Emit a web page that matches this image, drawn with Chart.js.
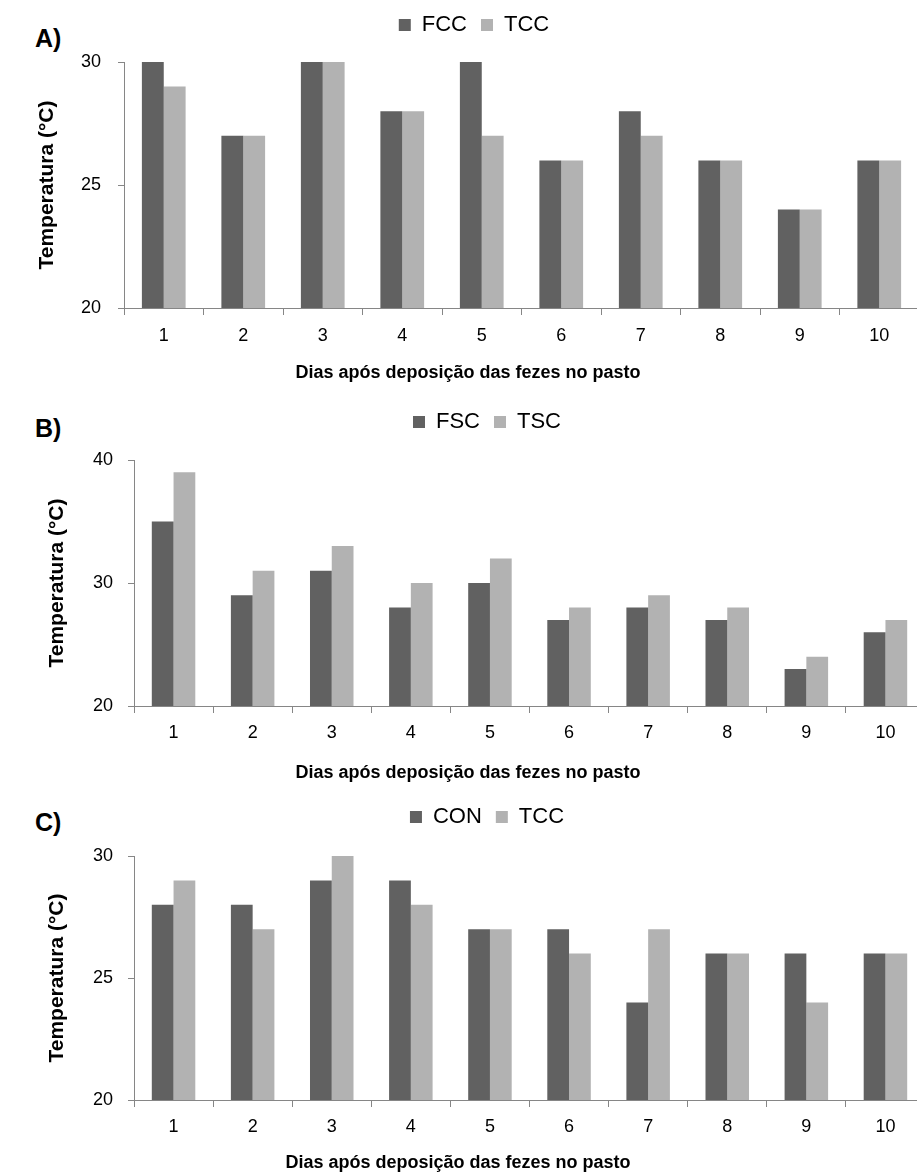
<!DOCTYPE html>
<html>
<head>
<meta charset="utf-8">
<script src="https://cdn.jsdelivr.net/npm/chart.js@4.4.1/dist/chart.umd.min.js"></script>
<style>
  html, body { margin: 0; padding: 0; background: #fff; width: 917px; height: 1175px; overflow: hidden; }
  .panel { position: absolute; left: 0; }
  .tag { position: absolute; left: 35px; font-family: "Liberation Sans", Arial, sans-serif; font-weight: bold; font-size: 25px; line-height: 1; color: #000; }
</style>
</head>
<body>
<div class="tag" style="top:26px">A)</div>
<div class="tag" style="top:416px">B)</div>
<div class="tag" style="top:810px">C)</div>
<div class="panel" style="top:0"><canvas id="chartA" width="919" height="395"></canvas></div>
<div class="panel" style="top:395px"><canvas id="chartB" width="925" height="400"></canvas></div>
<div class="panel" style="top:795px"><canvas id="chartC" width="925" height="380"></canvas></div>
<script>
const days = ["1", "2", "3", "4", "5", "6", "7", "8", "9", "10"];

// A) FCC x TCC
const fccA = [30, 27, 30, 28, 30, 26, 28, 26, 24, 26];
const tccA = [29, 27, 30, 28, 27, 26, 27, 26, 24, 26];
const yTicksA = [20, 25, 30];

// B) FSC x TSC
const fscB = [35, 29, 31, 28, 30, 27, 28, 27, 23, 26];
const tscB = [39, 31, 33, 30, 32, 28, 29, 28, 24, 27];
const yTicksB = [20, 30, 40];

// C) CON x TCC
const conC = [28, 28, 29, 29, 27, 27, 24, 26, 26, 26];
const tccC = [29, 27, 30, 28, 27, 26, 27, 26, 24, 26];
const yTicksC = [20, 25, 30];

const xTitle = "Dias após deposição das fezes no pasto";
const yTitle = "Temperatura (°C)";

const DARK = "#616161";
const LIGHT = "#b2b2b2";
const AXIS = "#868686";
const FONT = "'Liberation Sans', Arial, sans-serif";

// fixes legend height and moves the legend row to a given centre
const legendPlace = {
  id: "legendPlace",
  beforeInit(chart, args, opts) {
    const lg = chart.legend;
    const fit = lg.fit;
    lg.fit = function () { fit.call(this); this.height = opts.height; };
  },
  afterLayout(chart, args, opts) {
    const lg = chart.legend;
    const lab = lg.options.labels;
    const size = lab.font.size;
    const ih = Math.max(size, lab.boxHeight || size);
    const dy = opts.cy - (lg.top + lab.padding + ih / 2);
    const dx = opts.cx - (lg.left + lg.right) / 2;
    lg.top += dy; lg.bottom += dy;
    lg.left += dx; lg.right += dx;
  },
};

// x axis title sits left of the plot centre in the original, so it is placed by hand
const xTitlePlace = {
  id: "xTitlePlace",
  afterDraw(chart, args, opts) {
    const ctx = chart.ctx;
    ctx.save();
    ctx.font = `bold ${opts.size}px ${FONT}`;
    ctx.fillStyle = "#000";
    ctx.textAlign = "center";
    ctx.textBaseline = "middle";
    ctx.fillText(opts.text, opts.x, opts.y);
    ctx.restore();
  },
};

function makePanel(id, names, series, yTicks, lay) {
  const canvas = document.getElementById(id);
  return new Chart(canvas, {
    type: "bar",
    data: {
      labels: days,
      datasets: [
        { label: names[0], data: series[0], backgroundColor: DARK, borderWidth: 0 },
        { label: names[1], data: series[1], backgroundColor: LIGHT, borderWidth: 0 },
      ],
    },
    options: {
      responsive: false,
      animation: false,
      layout: { padding: 0 },
      datasets: { bar: { categoryPercentage: 0.55, barPercentage: 1.0 } },
      plugins: {
        tooltip: { enabled: false },
        legend: {
          position: "top",
          labels: {
            color: "#000",
            font: { family: FONT, size: 22 },
            boxWidth: 12,
            boxHeight: 12,
            padding: 14,
          },
        },
        legendPlace: { height: lay.top, cx: lay.legendX, cy: lay.legendY },
        xTitlePlace: { text: xTitle, size: 18, x: lay.titleX, y: lay.titleY },
      },
      scales: {
        x: {
          afterFit: (s) => { s.height = canvas.height - lay.bottom; },
          grid: { display: true, drawOnChartArea: false, drawTicks: true, tickLength: 7, color: AXIS, offset: true },
          border: { display: true, color: AXIS, width: 1 },
          ticks: { color: "#000", font: { family: FONT, size: 18, lineHeight: 1.2 }, padding: lay.xPad, maxRotation: 0 },
          title: { display: false },
        },
        y: {
          min: yTicks[0],
          max: yTicks[yTicks.length - 1],
          afterFit: (s) => { s.width = lay.axisX; },
          afterBuildTicks: (s) => { s.ticks = yTicks.map((v) => ({ value: v })); },
          grid: { display: true, drawOnChartArea: false, drawTicks: true, tickLength: 6, color: AXIS },
          border: { display: true, color: AXIS, width: 1 },
          ticks: { color: "#000", font: { family: FONT, size: 18 }, padding: lay.yPad },
          title: {
            display: true,
            text: yTitle,
            color: "#000",
            font: { family: FONT, size: 21, weight: "bold", lineHeight: 1.2 },
            padding: { top: lay.yTitlePad, bottom: 0 },
          },
        },
      },
    },
    plugins: [legendPlace, xTitlePlace],
  });
}

makePanel("chartA", ["FCC", "TCC"], [fccA, tccA], yTicksA,
  { axisX: 124, top: 62, bottom: 308, xPad: 10, yPad: 17, yTitlePad: 35, legendX: 474, legendY: 25, titleX: 468, titleY: 373 });
makePanel("chartB", ["FSC", "TSC"], [fscB, tscB], yTicksB,
  { axisX: 134, top: 65, bottom: 311, xPad: 9, yPad: 15, yTitlePad: 45, legendX: 487, legendY: 27, titleX: 468, titleY: 378 });
makePanel("chartC", ["CON", "TCC"], [conC, tccC], yTicksC,
  { axisX: 134, top: 61, bottom: 305, xPad: 9, yPad: 15, yTitlePad: 45, legendX: 487, legendY: 22, titleX: 458, titleY: 368 });
</script>
</body>
</html>
